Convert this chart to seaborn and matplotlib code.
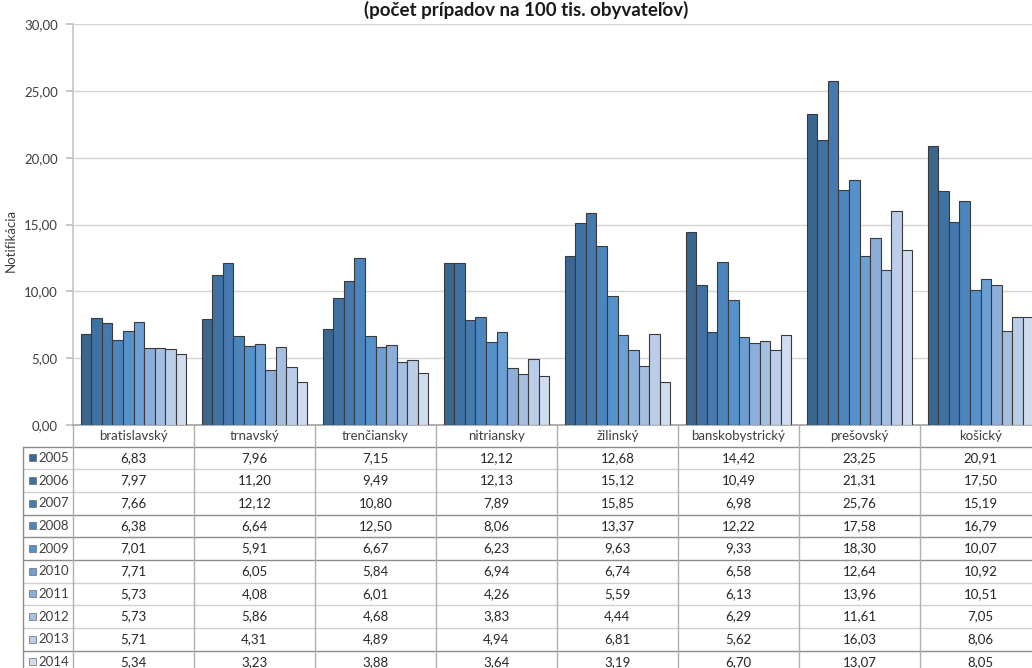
import numpy as np
import pandas as pd
import matplotlib
matplotlib.use("Agg")
import matplotlib.pyplot as plt
import seaborn as sns
from matplotlib.transforms import blended_transform_factory
from matplotlib.patches import Rectangle

# Notification rates by region and year (cases per 100 thousand inhabitants)
regions = ["bratislavský", "trnavský", "trenčiansky", "nitriansky",
           "žilinský", "banskobystrický", "prešovský", "košický"]
years = ["2005", "2006", "2007", "2008", "2009",
         "2010", "2011", "2012", "2013", "2014"]

rate_2005 = [6.83, 7.96, 7.15, 12.12, 12.68, 14.42, 23.25, 20.91]
rate_2006 = [7.97, 11.20, 9.49, 12.13, 15.12, 10.49, 21.31, 17.50]
rate_2007 = [7.66, 12.12, 10.80, 7.89, 15.85, 6.98, 25.76, 15.19]
rate_2008 = [6.38, 6.64, 12.50, 8.06, 13.37, 12.22, 17.58, 16.79]
rate_2009 = [7.01, 5.91, 6.67, 6.23, 9.63, 9.33, 18.30, 10.07]
rate_2010 = [7.71, 6.05, 5.84, 6.94, 6.74, 6.58, 12.64, 10.92]
rate_2011 = [5.73, 4.08, 6.01, 4.26, 5.59, 6.13, 13.96, 10.51]
rate_2012 = [5.73, 5.86, 4.68, 3.83, 4.44, 6.29, 11.61, 7.05]
rate_2013 = [5.71, 4.31, 4.89, 4.94, 6.81, 5.62, 16.03, 8.06]
rate_2014 = [5.34, 3.23, 3.88, 3.64, 3.19, 6.70, 13.07, 8.05]

rates = [rate_2005, rate_2006, rate_2007, rate_2008, rate_2009,
         rate_2010, rate_2011, rate_2012, rate_2013, rate_2014]

y_ticks = [0, 5, 10, 15, 20, 25, 30]

colors = ["#3B6690", "#3F72A2", "#4579AF", "#4C85BD", "#5591CB",
          "#6C9FD4", "#8DAED9", "#A5BFE2", "#BBCDE8", "#D0DCEF"]

df = pd.DataFrame(
    [(r, y, v) for y, row in zip(years, rates) for r, v in zip(regions, row)],
    columns=["region", "year", "value"],
)

sns.set_theme(style="white")
plt.rcParams["font.family"] = ["Lato", "DejaVu Sans"]

W, H = 1032, 668
fig = plt.figure(figsize=(W / 100, H / 100), dpi=100)

# plot area in pixel terms: x 73..1041 (runs past right edge), y 24..425
def fx(px):
    return px / W

def fy(py):
    return 1 - py / H

ax_left, ax_right = 73, 1041
ax = fig.add_axes([fx(ax_left), fy(425), fx(ax_right - ax_left), (425 - 24) / H])

sns.barplot(data=df, x="region", y="value", hue="year", order=regions,
            hue_order=years, palette=colors, width=0.875, saturation=1,
            edgecolor="#3a3a3a", linewidth=0.8, legend=False, ax=ax,
            zorder=3)

ax.set_xlim(-0.5, len(regions) - 0.5)
ax.set_ylim(0, 30)
ax.set_yticks(y_ticks)
ax.set_yticklabels([f"{t:.2f}".replace(".", ",") for t in y_ticks],
                   fontsize=9.5, color="#404040")
ax.set_xticks([])
ax.set_xlabel("")
ax.set_ylabel("Notifikácia", fontsize=9.5, color="#404040")
ax.yaxis.set_label_coords((17 - ax_left) / (ax_right - ax_left), 0.46)
ax.yaxis.grid(True, color="#D4D4D4", linewidth=1.0, zorder=0)
ax.tick_params(axis="y", which="major", length=5, color="#BFBFBF",
               left=True, pad=6)
for side in ["top", "right"]:
    ax.spines[side].set_visible(False)
ax.spines["left"].set_color("#C8C8C8")
ax.spines["bottom"].set_color("#A6A6A6")

# title line
fig.text(fx(526), fy(10), "(počet prípadov na 100 tis. obyvateľov)",
         ha="center", va="center", fontsize=13.5, fontweight="bold",
         color="#1a1a1a")

# data table under the plot
xdata_yfig = blended_transform_factory(ax.transData, fig.transFigure)
header_y = 436
row_top = 446.5
row_h = 22.67

def fmt(v):
    return f"{v:.2f}".replace(".", ",")

for i, name in enumerate(regions):
    fig.text(i, fy(header_y), name, transform=xdata_yfig, ha="center",
             va="center", fontsize=9.5, color="#404040")
    for j, row in enumerate(rates):
        yc = row_top + row_h * (j + 0.5)
        fig.text(i, fy(yc), fmt(row[i]), transform=xdata_yfig, ha="center",
                 va="center", fontsize=9.5, color="#262626")

# table grid: horizontal rules
dark_rules = {0, 3, 4, 5, 9}
for j in range(len(years) + 1):
    yl = row_top + row_h * j
    col = "#8C8C8C" if j in dark_rules else "#D0D0D0"
    fig.add_artist(plt.Line2D([fx(23), 1.0], [fy(yl), fy(yl)],
                              color=col, linewidth=1.0))

# table grid: vertical rules between regions
for i in range(len(regions) + 1):
    xb = i - 0.5
    fig.add_artist(plt.Line2D([xb, xb], [fy(425), 0.0], transform=xdata_yfig,
                              color="#B0B0B0", linewidth=1.0))
fig.add_artist(plt.Line2D([fx(23), fx(23)], [fy(row_top), 0.0],
                          color="#8C8C8C", linewidth=1.0))

# year keys with colour swatches
for j, (yr, c) in enumerate(zip(years, colors)):
    yc = row_top + row_h * (j + 0.5)
    fig.add_artist(Rectangle((fx(29), fy(yc + 3.5)), fx(7), 7 / H,
                             facecolor=c, edgecolor="#6a6a6a", linewidth=0.5))
    fig.text(fx(38), fy(yc), yr, ha="left", va="center", fontsize=9.5,
             color="#404040")

fig.savefig("out.png", dpi=100)
